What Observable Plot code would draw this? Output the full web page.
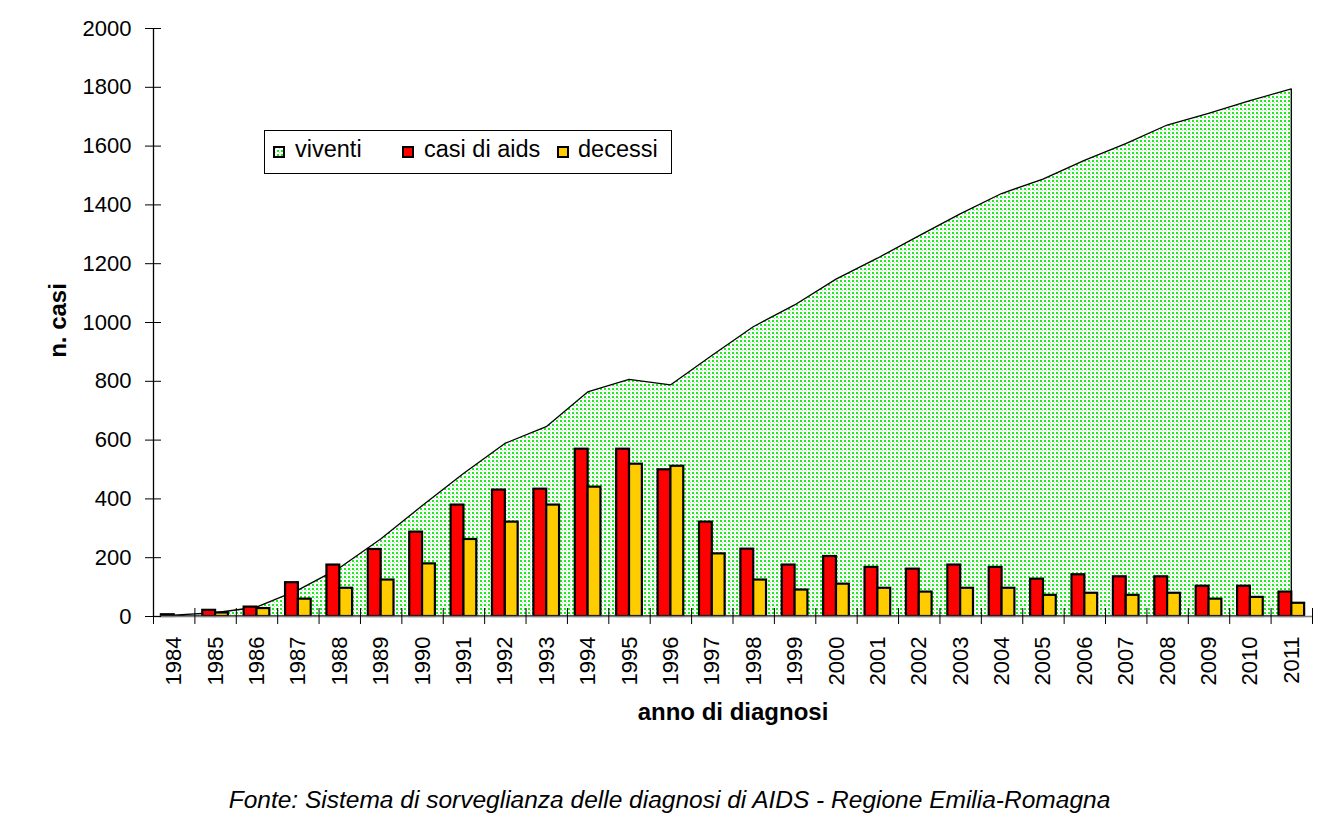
<!DOCTYPE html>
<html><head><meta charset="utf-8">
<script src="https://cdn.jsdelivr.net/npm/d3@7"></script>
<script src="https://cdn.jsdelivr.net/npm/@observablehq/plot@0.6"></script>
<style>
body{margin:0;background:#fff;font-family:"Liberation Sans",Arial,sans-serif;}
#wrap{position:relative;width:1339px;height:831px;overflow:hidden;}
#chart{position:absolute;left:0;top:0;}
#legend{position:absolute;left:264px;top:130px;width:406px;height:42px;border:1px solid #000;background:#fff;}
#legend .sw{position:absolute;top:15px;width:12px;height:12px;}
#legend .lab{position:absolute;top:7px;font-size:23.5px;line-height:23px;white-space:nowrap;color:#000;}
#caption{position:absolute;left:0;top:788px;width:1339px;text-align:center;font-style:italic;font-size:24.5px;line-height:24px;color:#000;}
</style></head><body>
<div id="wrap"><div id="chart"></div><div id="legend"></div><div id="caption"></div></div>
<script>
const years = [1984,1985,1986,1987,1988,1989,1990,1991,1992,1993,1994,1995,1996,1997,1998,1999,2000,2001,2002,2003,2004,2005,2006,2007,2008,2009,2010,2011];
const viventi = [3,11,30,88,163,262,375,485,587,644,762,805,786,886,984,1058,1146,1217,1293,1368,1437,1486,1550,1607,1670,1710,1753,1793];
const casiAids = [6,21,32,115,175,228,287,379,430,433,569,569,499,321,229,175,204,167,161,175,167,127,142,135,135,103,103,83];
const decessi = [0,12,27,59,96,124,179,262,321,379,440,518,511,213,124,90,110,96,83,96,96,72,79,72,79,59,65,45];
const yTicks = [0,200,400,600,800,1000,1200,1400,1600,1800,2000];
const seriesNames = ["viventi","casi di aids","decessi"];
const seriesColors = ["url(#dots)","#ff0000","#ffcc00"];
const xTitle = "anno di diagnosi";
const yTitle = "n. casi";
const captionText = "Fonte: Sistema di sorveglianza delle diagnosi di AIDS - Regione Emilia-Romagna";

const W = 1339, H = 760;
const data = years.map((y, i) => ({year: y, viventi: viventi[i], casi: casiAids[i], decessi: decessi[i]}));
const barW = 0.31;
const xDomain = [d3.min(years) - 0.5, d3.max(years) + 0.5];
const boundaries = d3.range(xDomain[0], xDomain[1] + 0.001, 1);
const font = '"Liberation Sans", Arial, sans-serif';

const chart = Plot.plot({
  width: W, height: H,
  marginLeft: 153, marginRight: 27, marginTop: 28, marginBottom: H - 616,
  x: {type: "linear", domain: xDomain},
  y: {domain: [0, 2000]},
  style: {fontFamily: font, color: "#000", background: "#fff", overflow: "visible"},
  marks: [
    Plot.areaY(data, {x: "year", y: "viventi", fill: seriesColors[0], stroke: "#000", strokeWidth: 1.3}),
    Plot.rect(data, {x1: d => d.year - barW, x2: d => d.year, y1: 0, y2: "casi", fill: seriesColors[1], stroke: "#000", strokeWidth: 2.2}),
    Plot.rect(data, {x1: d => d.year, x2: d => d.year + barW, y1: 0, y2: "decessi", fill: seriesColors[2], stroke: "#000", strokeWidth: 2.2}),
    Plot.ruleY([0], {stroke: "#808080", strokeWidth: 1.5}),
    Plot.ruleX([xDomain[0]], {stroke: "#000", strokeWidth: 1.3}),
    Plot.axisY({ticks: yTicks, tickSize: 16, dx: 8, fill: "none", stroke: "#000", label: null}),
    Plot.axisY({ticks: yTicks, tickSize: 0, tickPadding: 22, fontSize: 22, tickFormat: d => String(d), label: null}),
    Plot.axisX({ticks: boundaries, tickSize: 16, dy: -8, fill: "none", stroke: "#000", label: null}),
    Plot.axisX({ticks: years, tickSize: 0, tickPadding: 20, tickRotate: -90, fontSize: 22, tickFormat: d => String(d), label: null}),
    Plot.text([xTitle], {text: d => d, frameAnchor: "bottom", dy: 96, lineAnchor: "middle", textAnchor: "middle", fontSize: 24, fontWeight: "bold"}),
    Plot.text([yTitle], {text: d => d, frameAnchor: "left", dx: -95, dy: -2, rotate: -90, lineAnchor: "middle", textAnchor: "middle", fontSize: 24, fontWeight: "bold"})
  ]
});

const defs = d3.select(chart).insert("defs", ":first-child");
const pat = defs.append("pattern").attr("id", "dots").attr("width", 4).attr("height", 4).attr("patternUnits", "userSpaceOnUse");
pat.append("rect").attr("width", 4).attr("height", 4).attr("fill", "#fff");
pat.append("rect").attr("width", 2).attr("height", 2).attr("fill", "#19f019");
pat.append("rect").attr("x", 2).attr("y", 2).attr("width", 1).attr("height", 1).attr("fill", "#a6f5a6");
document.getElementById("chart").appendChild(chart);

// legend
const legend = d3.select("#legend");
const swLeft = [8, 137, 292], labLeft = [30, 159, 313];
seriesNames.forEach((name, i) => {
  const sw = legend.append("svg").attr("class", "sw").style("left", swLeft[i] + "px").attr("width", 12).attr("height", 12);
  sw.append("rect").attr("x", 1).attr("y", 1).attr("width", 10).attr("height", 10)
    .attr("fill", seriesColors[i]).attr("stroke", "#000").attr("stroke-width", 2);
  legend.append("div").attr("class", "lab").style("left", labLeft[i] + "px").text(name);
});
document.getElementById("caption").textContent = captionText;
</script>
</body></html>
